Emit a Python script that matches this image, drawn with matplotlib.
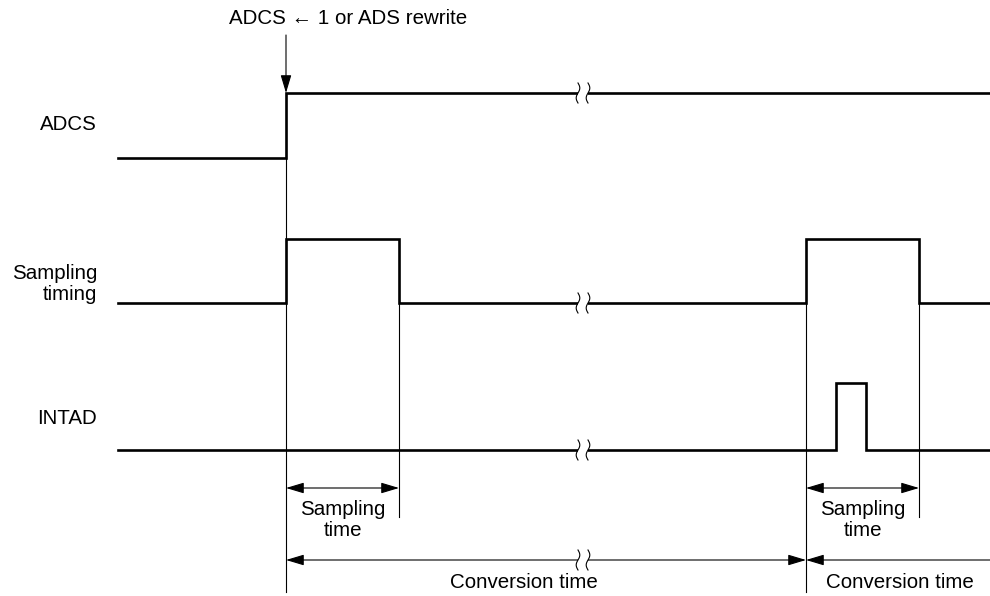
import numpy as np
import matplotlib
matplotlib.use("Agg")
import matplotlib.pyplot as plt
from matplotlib.patches import FancyArrowPatch, Rectangle

plt.rcParams["font.family"] = ["Liberation Sans", "DejaVu Sans"]

# timing diagram, drawn in pixel-like units (x: time, y: row position)
signal_names = ["ADCS", "Sampling\ntiming", "INTAD"]
adcs_t = [118, 286, 990]
adcs_lv = [0, 1]
samp_t = [118, 286, 399, 806, 919, 990]
samp_lv = [0, 1, 0, 1, 0]
intad_t = [118, 836, 866, 990]
intad_lv = [0, 1, 0]
low_y = [158, 303, 450]
high_y = [93, 239, 383]
label_y = [125, 284, 418]

trigger_t = 286
sample_start = [286, 806]
sample_end = [399, 919]
conv_start = [286, 806]
conv_end = [806, 990]
conv_label_x = [524, 900]
break_t = 583

fig = plt.figure(figsize=(9.9, 5.96), dpi=100)
ax = fig.add_axes([0, 0, 1, 1])
ax.set_xlim(0, 990)
ax.set_ylim(596, 0)
ax.axis("off")

THICK = 1.9
THIN = 0.8
FS = 14.8


def signal(ts, lv, row):
    ys = [high_y[row] if v else low_y[row] for v in lv]
    ys.append(ys[-1])
    ax.plot(ts, ys, drawstyle="steps-post", color="black", lw=THICK,
            solid_joinstyle="miter", zorder=3)


def brk(x, y, h=10):
    ax.add_patch(Rectangle((x - 5, y - 3), 10, 6, facecolor="white",
                           edgecolor="none", zorder=4))
    t = np.linspace(0, 1, 40)
    for dx in (-5, 5):
        ax.plot(x + dx + 1.8 * np.sin(2 * np.pi * t), y - h + 2 * h * t,
                color="black", lw=0.8, zorder=5)


def arrow(x1, y1, x2, y2, style):
    ax.add_patch(FancyArrowPatch((x1, y1), (x2, y2),
                 arrowstyle=style + ",head_length=1.0,head_width=0.3",
                 mutation_scale=11, lw=THIN, color="black",
                 shrinkA=0, shrinkB=0, zorder=4))


signal(adcs_t, adcs_lv, 0)
signal(samp_t, samp_lv, 1)
signal(intad_t, intad_lv, 2)

for name, y in zip(signal_names, label_y):
    ax.text(97, y, name, ha="right", va="center", fontsize=FS,
            linespacing=1.1)

# trigger arrow
ax.text(trigger_t - 57, 18, "ADCS \u2190 1 or ADS rewrite", ha="left",
        va="center", fontsize=FS)
arrow(trigger_t, 35, trigger_t, high_y[0], "-|>")

# guide lines
ax.plot([trigger_t, trigger_t], [high_y[0], 592], color="black", lw=THIN)
for s, e in zip(sample_start, sample_end):
    if s != trigger_t:
        ax.plot([s, s], [low_y[1], 592], color="black", lw=THIN)
    ax.plot([e, e], [low_y[1], 517], color="black", lw=THIN)
    arrow(s, 488, e, 488, "<|-|>")
    ax.text((s + e) / 2, 520, "Sampling\ntime", ha="center", va="center",
            fontsize=FS, linespacing=1.1)

arrow(conv_start[0], 560, conv_end[0], 560, "<|-|>")
arrow(conv_end[1], 560, conv_start[1], 560, "-|>")
for x in conv_label_x:
    ax.text(x, 582, "Conversion time", ha="center", va="center",
            fontsize=FS)

for y in (high_y[0], low_y[1], low_y[2], 560):
    brk(break_t, y)

fig.savefig("out.png", dpi=100)
